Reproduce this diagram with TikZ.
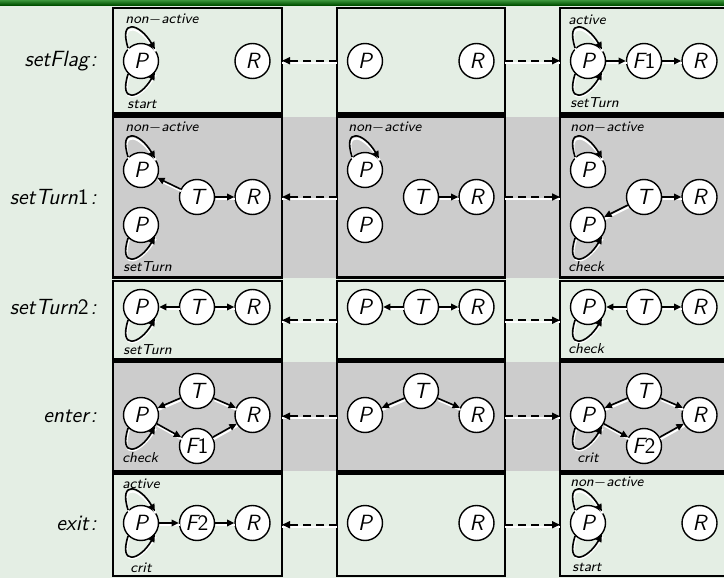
\documentclass[tikz,border=0pt]{standalone}
\usetikzlibrary{arrows.meta,fit}
\definecolor{bgc}{RGB}{228,238,228}
\definecolor{bandc}{RGB}{204,204,204}
\definecolor{bartop}{RGB}{60,150,60}
\definecolor{barbot}{RGB}{0,80,0}
\newcommand\updig[1]{{\upshape #1}}
\begin{document}
\begin{tikzpicture}[x=0.5pt,y=-0.5pt,
  st/.style={circle,draw,line width=0.7pt,fill=white,minimum size=17.5pt,inner sep=0pt,
    font=\sffamily\itshape\fontsize{11}{13}\selectfont},
  conn/.style={line width=0.8pt,-{Triangle[length=3.6pt,width=3.3pt]},
    preaction={draw=white,line width=1pt,-,transform canvas={shift={(0.4pt,-1pt)}}}},
  dsh/.style={line width=0.8pt,dash pattern=on 4pt off 2.5pt,-{Triangle[length=4pt,width=3.5pt]},
    preaction={draw=white,solid,line width=1pt,-,transform canvas={yshift=-0.9pt}}},
  lbl/.style={anchor=west,inner sep=0pt,font=\sffamily\itshape\fontsize{7.2}{8}\selectfont},
  rowlbl/.style={anchor=east,inner sep=0pt,font=\sffamily\itshape\fontsize{11}{13}\selectfont},
  boxn/.style={draw,line width=1.2pt,inner sep=0pt,outer sep=0pt,rectangle}]
\newcommand\looptop[1]{\draw[conn] (#1.135) .. controls +(108:16pt) and +(120:15pt) .. (#1.40);}
\newcommand\loopbot[1]{\draw[conn] (#1.-135) .. controls +(-108:16pt) and +(-120:15pt) .. (#1.-40);}
\useasboundingbox (0,0) rectangle (724,578);
\fill[bgc] (0,0) rectangle (724,578);
\shade[top color=bartop,bottom color=barbot] (0,0) rectangle (724,5);
% gray bands
\fill[bandc] (113,116.5) rectangle (730,277.5);
\fill[bandc] (113,361.5) rectangle (730,471);
% boxes
\node[boxn,fit={(113,8) (282,113.5)}] (b11) {};
\node[boxn,fit={(337,8) (505,113.5)}] (b12) {};
\node[boxn,fit={(560,8) (740,113.5)}] (b13) {};
\node[boxn,fit={(113,116.5) (282,277.5)}] (b21) {};
\node[boxn,fit={(337,116.5) (505,277.5)}] (b22) {};
\node[boxn,fit={(560,116.5) (740,277.5)}] (b23) {};
\node[boxn,fit={(113,281) (282,359.5)}] (b31) {};
\node[boxn,fit={(337,281) (505,359.5)}] (b32) {};
\node[boxn,fit={(560,281) (740,359.5)}] (b33) {};
\node[boxn,fit={(113,361.5) (282,471)}] (b41) {};
\node[boxn,fit={(337,361.5) (505,471)}] (b42) {};
\node[boxn,fit={(560,361.5) (740,471)}] (b43) {};
\node[boxn,fit={(113,473.5) (282,576)}] (b51) {};
\node[boxn,fit={(337,473.5) (505,576)}] (b52) {};
\node[boxn,fit={(560,473.5) (740,576)}] (b53) {};
% dashed arrows between boxes
\foreach \r in {1,...,5}{
  \draw[dsh] (b\r2.west) -- (b\r1.east);
  \draw[dsh] (b\r2.east) -- (b\r3.west);
}
% row labels
\node[rowlbl] (l1) at (97,61) {setFlag\kern1pt:};
\node[rowlbl] (l2) at (97,197) {setTurn\updig{1}\kern1pt:};
\node[rowlbl] (l3) at (97,307) {setTurn\updig{2}\kern1pt:};
\node[rowlbl] (l4) at (97,416) {enter\kern1pt:};
\node[rowlbl] (l5) at (97,523) {exit\kern1pt:};
% ---------- row 1
\node[st] (a1P) at (141,61) {P};
\node[st] (a1R) at (252.5,61) {R};
\node[st] (a2P) at (365,61) {P};
\node[st] (a2R) at (476.5,61) {R};
\node[st] (a3P) at (588,61) {P};
\node[st] (a3F) at (644,61) {F\updig{1}};
\node[st] (a3R) at (699.5,61) {R};
\looptop{a1P}
\loopbot{a1P}
\looptop{a3P}
\loopbot{a3P}
\draw[conn] (a3P) -- (a3F);
\draw[conn] (a3F) -- (a3R);
\node[lbl] (a1t) at (125,20) {non$-$active};
\node[lbl] (a1b) at (127,104) {start};
\node[lbl] (a3t) at (568,20) {active};
\node[lbl] (a3b) at (570,103) {setTurn};
% ---------- row 2
\node[st] (c1Pa) at (141,170) {P};
\node[st] (c1Pb) at (141,225) {P};
\node[st] (c1T) at (197,197) {T};
\node[st] (c1R) at (252.5,197) {R};
\node[st] (c2Pa) at (365,170) {P};
\node[st] (c2Pb) at (365,225) {P};
\node[st] (c2T) at (421,197) {T};
\node[st] (c2R) at (476.5,197) {R};
\node[st] (c3Pa) at (588,170) {P};
\node[st] (c3Pb) at (588,225) {P};
\node[st] (c3T) at (644,197) {T};
\node[st] (c3R) at (699.5,197) {R};
\looptop{c1Pa}
\loopbot{c1Pb}
\draw[conn] (c1T) -- (c1Pa);
\draw[conn] (c1T) -- (c1R);
\looptop{c2Pa}
\draw[conn] (c2T) -- (c2R);
\looptop{c3Pa}
\loopbot{c3Pb}
\draw[conn] (c3T) -- (c3Pb);
\draw[conn] (c3T) -- (c3R);
\node[lbl] (c1t) at (125,128) {non$-$active};
\node[lbl] (c1b) at (123,267) {setTurn};
\node[lbl] (c2t) at (348,128) {non$-$active};
\node[lbl] (c3t) at (570,128) {non$-$active};
\node[lbl] (c3b) at (568,267) {check};
% ---------- row 3
\node[st] (d1P) at (141,307) {P};
\node[st] (d1T) at (197,307) {T};
\node[st] (d1R) at (252.5,307) {R};
\node[st] (d2P) at (365,307) {P};
\node[st] (d2T) at (421,307) {T};
\node[st] (d2R) at (476.5,307) {R};
\node[st] (d3P) at (588,307) {P};
\node[st] (d3T) at (644,307) {T};
\node[st] (d3R) at (699.5,307) {R};
\draw[conn] (d1T) -- (d1P);
\draw[conn] (d1T) -- (d1R);
\draw[conn] (d2T) -- (d2P);
\draw[conn] (d2T) -- (d2R);
\draw[conn] (d3T) -- (d3P);
\draw[conn] (d3T) -- (d3R);
\loopbot{d1P}
\loopbot{d3P}
\node[lbl] (d1b) at (123,350) {setTurn};
\node[lbl] (d3b) at (568,349) {check};
% ---------- row 4
\node[st] (e1P) at (141,415) {P};
\node[st] (e1T) at (197,391) {T};
\node[st] (e1F) at (197,446) {F\updig{1}};
\node[st] (e1R) at (252.5,415) {R};
\node[st] (e2P) at (365,415) {P};
\node[st] (e2T) at (421,391) {T};
\node[st] (e2R) at (476.5,415) {R};
\node[st] (e3P) at (588,415) {P};
\node[st] (e3T) at (644,391) {T};
\node[st] (e3F) at (644,446) {F\updig{2}};
\node[st] (e3R) at (699.5,415) {R};
\draw[conn] (e1T) -- (e1P);
\draw[conn] (e1T) -- (e1R);
\draw[conn] (e1P) -- (e1F);
\draw[conn] (e1F) -- (e1R);
\draw[conn] (e2T) -- (e2P);
\draw[conn] (e2T) -- (e2R);
\draw[conn] (e3T) -- (e3P);
\draw[conn] (e3T) -- (e3R);
\draw[conn] (e3P) -- (e3F);
\draw[conn] (e3F) -- (e3R);
\loopbot{e1P}
\loopbot{e3P}
\node[lbl] (e1b) at (122,458) {check};
\node[lbl] (e3b) at (577,458) {crit};
% ---------- row 5
\node[st] (f1P) at (141,523) {P};
\node[st] (f1F) at (197,523) {F\updig{2}};
\node[st] (f1R) at (252.5,523) {R};
\node[st] (f2P) at (365,523) {P};
\node[st] (f2R) at (476.5,523) {R};
\node[st] (f3P) at (588,523) {P};
\node[st] (f3R) at (699.5,523) {R};
\draw[conn] (f1P) -- (f1F);
\draw[conn] (f1F) -- (f1R);
\looptop{f1P}
\loopbot{f1P}
\looptop{f3P}
\loopbot{f3P}
\node[lbl] (f1t) at (122,484) {active};
\node[lbl] (f1b) at (130,568) {crit};
\node[lbl] (f3t) at (570,483) {non$-$active};
\node[lbl] (f3b) at (572,567) {start};
\end{tikzpicture}
\end{document}
